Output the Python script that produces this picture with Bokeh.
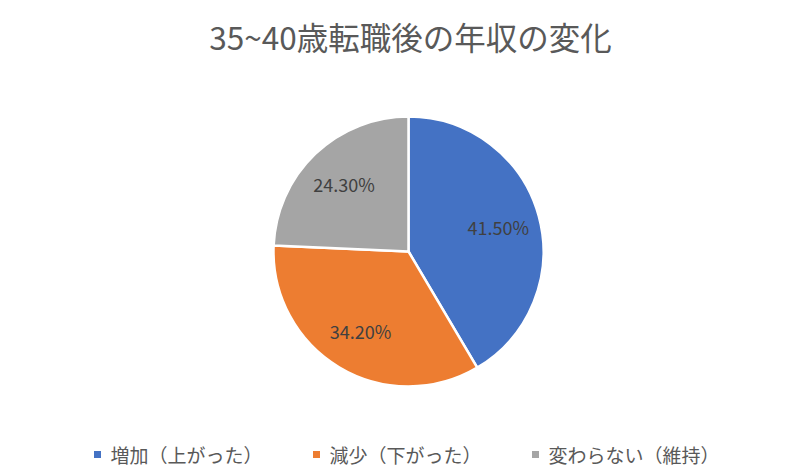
import math
from bokeh.plotting import figure
from bokeh.models import Range1d, ColumnDataSource
from bokeh.core.properties import value
from bokeh.embed import file_html
from bokeh.resources import INLINE

# ---- data ----
title_text = "35~40歳転職後の年収の変化"
categories = ["増加（上がった）", "減少（下がった）", "変わらない（維持）"]
shares = [41.5, 34.2, 24.3]
colors = ["#4472C4", "#ED7D31", "#A5A5A5"]

W, H = 799, 467
FONT = value("Noto Sans CJK JP")

p = figure(width=W, height=H, output_backend="svg", toolbar_location=None,
           x_range=Range1d(0, W), y_range=Range1d(0, H), min_border=0,
           outline_line_color=None, background_fill_color="white",
           border_fill_color="white")
p.axis.visible = False
p.grid.visible = False

# pie geometry (pixel-like data units)
cx, cy, R = 408, H - 251, 135
total = sum(shares)
starts, ends, mids = [], [], []
cum = 0.0
for v in shares:
    a0 = math.pi / 2 - 2 * math.pi * cum / total
    cum += v
    a1 = math.pi / 2 - 2 * math.pi * cum / total
    starts.append(a0)
    ends.append(a1)
    mids.append((a0 + a1) / 2)

src = ColumnDataSource(dict(start=starts, end=ends, color=colors))
p.wedge(x=cx, y=cy, radius=R, start_angle="start", end_angle="end",
        direction="clock", fill_color="color", line_color="white",
        line_width=2.5, source=src)

# data labels
lr = 0.69 * R
lab = ColumnDataSource(dict(
    x=[cx + lr * math.cos(m) for m in mids],
    y=[cy + lr * math.sin(m) for m in mids],
    t=[f"{v:.2f}%" for v in shares]))
p.text(x="x", y="y", text="t", source=lab, text_font=FONT,
       text_font_size="18px", text_color="#404040",
       text_align="center", text_baseline="middle")

# title
p.text(x=[410], y=[H - 35], text=[title_text], text_font=FONT,
       text_font_size="31.5px", text_color="#595959",
       text_align="center", text_baseline="middle")

# legend (manual, horizontal, centered)
fs = 19
sq_gap = 13
item_gap = 54
widths = [sq_gap + len(c) * fs + item_gap for c in categories]
total_w = sum(widths) - item_gap
x0 = 408 - total_w / 2
sq_x, tx_x = [], []
x = x0
for w in widths:
    sq_x.append(x)
    tx_x.append(x + sq_gap)
    x += w
ly = H - 454
p.scatter(x=sq_x, y=[ly] * 3, marker="square", size=7,
          fill_color=colors, line_color=None)
p.text(x=tx_x, y=[ly] * 3, text=categories, text_font=FONT,
       text_font_size=f"{fs}px", text_color="#595959",
       text_align="left", text_baseline="middle")

open("out.html", "w").write(file_html(p, INLINE))
